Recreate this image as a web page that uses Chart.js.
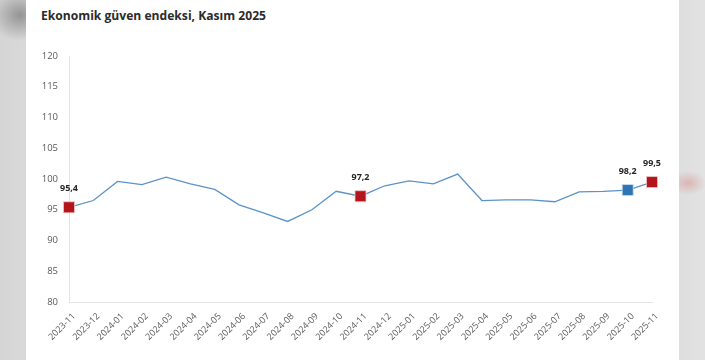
<!DOCTYPE html>
<html>
<head>
<meta charset="utf-8">
<script src="https://cdn.jsdelivr.net/npm/chart.js@4/dist/chart.umd.min.js"></script>
<style>
  html, body { margin:0; padding:0; }
  body {
    width:705px; height:360px; overflow:hidden; position:relative;
    background:
      radial-gradient(ellipse 18px 12px at 688px 183px, rgba(215,130,130,0.45), rgba(215,130,130,0) 100%),
      radial-gradient(ellipse 30px 26px at 20px 15px, rgba(120,120,120,0.7), rgba(120,120,120,0) 100%),
      linear-gradient(to right, #d5d5d5 0px, #d9d9d9 26px, #dedede 679px, #e2e2e2 705px);
  }
  #panel { position:absolute; left:26px; top:0; width:653px; height:360px; background:#ffffff; }
  #title { position:absolute; left:41px; top:7px; font-family:"Open Sans","Noto Sans",sans-serif; font-weight:700; font-size:13px; line-height:18px; color:#2b2b2b; white-space:nowrap; }
  #c { position:absolute; left:0; top:0; }
</style>
</head>
<body>
<div id="panel"></div>
<div id="title">Ekonomik güven endeksi, Kasım 2025</div>
<canvas id="c" width="705" height="360"></canvas>
<script>
const categories = ["2023-11","2023-12","2024-01","2024-02","2024-03","2024-04","2024-05","2024-06","2024-07","2024-08","2024-09","2024-10","2024-11","2024-12","2025-01","2025-02","2025-03","2025-04","2025-05","2025-06","2025-07","2025-08","2025-09","2025-10","2025-11"];
const values = [95.4,96.5,99.6,99.1,100.3,99.2,98.3,95.8,94.5,93.1,95.0,98.0,97.2,98.9,99.7,99.2,100.8,96.5,96.6,96.6,96.3,97.9,98.0,98.2,99.5];
const highlightIdx = [0,12,23,24];
const highlightColor = ["#b2151b","#b2151b","#2e75b6","#b2151b"];
const yTicks = [80,85,90,95,100,105,110,115,120];

// fit title width to reference (~225px)
(function(){
  const t = document.getElementById('title');
  const w = t.getBoundingClientRect().width;
  if (w > 0) t.style.fontSize = (13 * 225 / w).toFixed(2) + 'px';
})();

const pointRadius = values.map((v,i)=> highlightIdx.includes(i) ? 7.8 : 0);
const pointBg = values.map((v,i)=> { const k = highlightIdx.indexOf(i); return k>=0 ? highlightColor[k] : 'rgba(0,0,0,0)'; });
const pointBorder = values.map((v,i)=> { const k = highlightIdx.indexOf(i); return k>=0 ? (highlightColor[k]==="#2e75b6" ? '#cfe0f0' : '#f0c8c8') : 'rgba(0,0,0,0)'; });

const labelPlugin = {
  id:'pointLabels',
  afterDatasetsDraw(chart){
    const ctx = chart.ctx;
    const meta = chart.getDatasetMeta(0);
    ctx.save();
    ctx.font = 'bold 9px "Open Sans","Noto Sans",sans-serif';
    ctx.fillStyle = '#262626';
    ctx.textAlign = 'center';
    ctx.textBaseline = 'middle';
    highlightIdx.forEach(i=>{
      const p = meta.data[i];
      ctx.fillText(values[i].toFixed(1).replace('.',','), p.x, p.y - 19);
    });
    ctx.restore();
  }
};

new Chart(document.getElementById('c'), {
  type:'line',
  data:{
    labels: categories,
    datasets:[{
      data: values,
      borderColor:'#5b93c8',
      borderWidth:1.3,
      tension:0,
      pointStyle:'rect',
      pointRadius: pointRadius,
      pointHoverRadius: pointRadius,
      pointBackgroundColor: pointBg,
      pointBorderColor: pointBorder,
      pointBorderWidth: 0.8,
      clip:false
    }]
  },
  options:{
    responsive:false,
    animation:false,
    events:[],
    layout:{ padding:{ left:40, right:53, top:56, bottom:0 } },
    plugins:{ legend:{display:false}, tooltip:{enabled:false}, title:{display:false} },
    scales:{
      x:{
        offset:false,
        grid:{ display:true, color:'rgba(0,0,0,0)', drawTicks:false },
        border:{ display:true, color:'#e3e3e3', width:1 },
        ticks:{ autoSkip:false, minRotation:45, maxRotation:45, padding:9, labelOffset:5,
                color:'#595959', font:{ family:'"Open Sans","Noto Sans",sans-serif', size:9 } },
        afterFit(s){ s.height = 58; }
      },
      y:{
        min:80, max:120,
        afterBuildTicks(s){ s.ticks = yTicks.map(v=>({value:v})); },
        grid:{ display:true, color:'rgba(0,0,0,0)', drawTicks:false },
        border:{ display:true, color:'#e3e3e3', width:1 },
        ticks:{ padding:11, color:'#595959', font:{ family:'"Open Sans","Noto Sans",sans-serif', size:9.5 } },
        afterFit(s){ s.width = 29; }
      }
    }
  },
  plugins:[labelPlugin]
});
</script>
</body>
</html>
